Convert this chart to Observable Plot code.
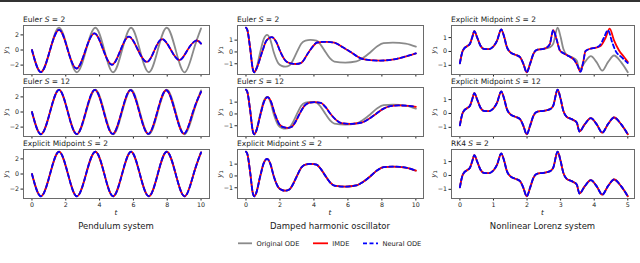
<!DOCTYPE html>
<html>
<head>
<meta charset="utf-8">
<script src="https://cdn.jsdelivr.net/npm/d3@7"></script>
<script src="https://cdn.jsdelivr.net/npm/@observablehq/plot@0.6"></script>
<style>
  html, body { margin: 0; padding: 0; background: #fff; }
  #wrap { position: relative; width: 640px; height: 263px; overflow: hidden; font-family: "DejaVu Sans", sans-serif; color: #1a1a1a; background: #fff; }
  .abs { position: absolute; white-space: nowrap; line-height: 1; }
  .ptitle { font-size: 7.5px; }
  .ylab { font-size: 7.2px; transform: translate(-50%, -50%) rotate(-90deg); }
  .ylab sub { font-size: 5px; vertical-align: -1.5px; }
  .xlab { font-size: 7.2px; transform: translate(-50%, -50%); font-style: italic; }
  .ctitle { font-size: 8.5px; transform: translate(-50%, -50%); }
  .leg { font-size: 6.7px; transform: translateY(-50%); }
  svg.panel { position: absolute; overflow: visible; }
</style>
</head>
<body>
<div id="wrap"></div>
<script>
// ---------------- data ----------------
const xTicksLong = [0, 2, 4, 6, 8, 10];
const xTicksShort = [0, 1, 2, 3, 4, 5];
const yTicksPendulum = [-2, 0, 2];
const yTicksDamped = [-1, 0, 1];
const yTicksLorenz = [-1, 0, 1];

const columnNames = ["Pendulum system", "Damped harmonic oscillator", "Nonlinear Lorenz system"];
const pendulumMethods = ["Euler", "Euler", "Explicit Midpoint"];
const pendulumSteps = [2, 12, 2];
const dampedMethods = ["Euler", "Euler", "Explicit Midpoint"];
const dampedSteps = [2, 12, 2];
const lorenzMethods = ["Explicit Midpoint", "Explicit Midpoint", "RK4"];
const lorenzSteps = [2, 12, 2];
const legendLabels = ["Original ODE", "IMDE", "Neural ODE"];

// Pendulum system, y1 vs t
const pendulumOriginal = [[0,0],[0.53,-2.95],[1.07,0],[1.6,2.95],[2.13,0],[2.66,-2.95],[3.2,0],[3.75,2.95],[4.28,0],[4.8,-2.95],[5.33,0],[5.86,2.95],[6.38,0],[6.91,-2.95],[7.44,0],[7.97,2.95],[8.5,0],[9.04,-2.95],[9.56,0],[10,2.86]];
const pendulumImdeEulerS2 = [[0,0],[0.53,-2.92],[1.07,0],[1.61,2.67],[2.12,0],[2.64,-2.45],[3.17,0],[3.7,2.2],[4.22,0],[4.74,-1.95],[5.24,0],[5.74,1.78],[6.27,0],[6.8,-1.58],[7.25,0],[7.71,1.45],[8.22,0],[8.73,-1.33],[9.2,0],[9.68,1.23],[10,0.85]];
const pendulumNodeEulerS2 = [[0,0],[0.53,-2.92],[1.07,0],[1.61,2.67],[2.12,0],[2.64,-2.45],[3.17,0],[3.7,2.2],[4.22,0],[4.74,-1.95],[5.24,0],[5.74,1.78],[6.27,0],[6.8,-1.58],[7.25,0],[7.71,1.45],[8.22,0],[8.73,-1.33],[9.2,0],[9.68,1.23],[10,0.85]];
const pendulumImdeEulerS12 = [[0,0],[0.53,-2.95],[1.07,0],[1.6,2.94],[2.12,0],[2.65,-2.93],[3.18,0],[3.72,2.92],[4.25,0],[4.77,-2.91],[5.3,0],[5.83,2.9],[6.35,0],[6.88,-2.89],[7.41,0],[7.94,2.88],[8.47,0],[9.0,-2.87],[9.52,0],[10,2.68]];
const pendulumNodeEulerS12 = [[0,0],[0.53,-2.95],[1.07,0],[1.6,2.94],[2.12,0],[2.65,-2.93],[3.18,0],[3.72,2.92],[4.25,0],[4.77,-2.91],[5.3,0],[5.83,2.9],[6.35,0],[6.88,-2.89],[7.41,0],[7.94,2.88],[8.47,0],[9.0,-2.87],[9.52,0],[10,2.68]];
const pendulumImdeMidpointS2 = [[0,0],[0.53,-2.95],[1.07,0],[1.6,2.95],[2.13,0],[2.66,-2.95],[3.2,0],[3.75,2.95],[4.28,0],[4.8,-2.95],[5.33,0],[5.86,2.95],[6.38,0],[6.91,-2.95],[7.44,0],[7.97,2.95],[8.5,0],[9.04,-2.95],[9.56,0],[10,2.86]];
const pendulumNodeMidpointS2 = [[0,0],[0.53,-2.95],[1.07,0],[1.6,2.95],[2.13,0],[2.66,-2.95],[3.2,0],[3.75,2.95],[4.28,0],[4.8,-2.95],[5.33,0],[5.86,2.95],[6.38,0],[6.91,-2.95],[7.44,0],[7.97,2.95],[8.5,0],[9.04,-2.95],[9.56,0],[10,2.86]];

// Damped harmonic oscillator, y1 vs t
const dampedOriginal = [[0,2.05],[0.08,1.85],[0.25,0.25],[0.4,-1.45],[0.49,-1.72],[0.6,-1.45],[0.84,0],[1.05,1.1],[1.24,1.44],[1.43,1.05],[1.63,0],[1.9,-0.95],[2.1,-1.18],[2.32,-1.25],[2.55,-1.15],[2.75,-0.75],[3.0,0],[3.25,0.7],[3.5,0.96],[3.8,1.02],[4.15,0.95],[4.4,0.6],[4.68,0],[4.95,-0.55],[5.2,-0.82],[5.85,-0.9],[6.5,-0.8],[6.9,-0.5],[7.34,0],[7.75,0.5],[8.1,0.74],[8.65,0.79],[9.4,0.71],[10,0.45]];
const dampedImdeEulerS2 = [[0,2.05],[0.08,1.85],[0.25,0.25],[0.4,-1.45],[0.49,-1.72],[0.62,-1.4],[0.95,0],[1.2,0.95],[1.52,1.25],[1.78,0.85],[2.03,0],[2.3,-0.7],[2.62,-0.97],[2.93,-1.02],[3.25,-0.92],[3.7,0],[4.2,0.8],[4.7,0.86],[5.2,0.78],[5.7,0.4],[6.16,0],[6.7,-0.5],[7.3,-0.7],[7.9,-0.73],[8.6,-0.65],[9.3,-0.42],[10,-0.12]];
const dampedNodeEulerS2 = [[0,2.05],[0.08,1.85],[0.25,0.25],[0.4,-1.45],[0.49,-1.72],[0.62,-1.4],[0.95,0],[1.2,0.95],[1.52,1.25],[1.78,0.85],[2.03,0],[2.3,-0.7],[2.62,-0.97],[2.93,-1.02],[3.25,-0.92],[3.7,0],[4.2,0.8],[4.7,0.86],[5.2,0.78],[5.7,0.4],[6.16,0],[6.7,-0.5],[7.3,-0.7],[7.9,-0.73],[8.6,-0.65],[9.3,-0.42],[10,-0.12]];
const dampedImdeEulerS12 = [[0,2.05],[0.08,1.85],[0.25,0.25],[0.4,-1.45],[0.49,-1.72],[0.6,-1.45],[0.86,0],[1.08,1.1],[1.28,1.42],[1.47,1.05],[1.7,0],[1.98,-0.9],[2.2,-1.12],[2.45,-1.18],[2.7,-1.08],[2.9,-0.7],[3.15,0],[3.45,0.7],[3.75,0.95],[4.05,1.0],[4.4,0.93],[4.7,0.55],[4.98,0],[5.3,-0.5],[5.6,-0.77],[6.15,-0.84],[6.8,-0.74],[7.2,-0.45],[7.65,0],[8.1,0.45],[8.5,0.66],[9.0,0.72],[9.6,0.69],[10,0.6]];
const dampedNodeEulerS12 = [[0,2.05],[0.08,1.85],[0.25,0.25],[0.4,-1.45],[0.49,-1.72],[0.6,-1.45],[0.86,0],[1.08,1.1],[1.28,1.42],[1.47,1.05],[1.7,0],[1.98,-0.9],[2.2,-1.12],[2.45,-1.18],[2.7,-1.08],[2.9,-0.7],[3.15,0],[3.45,0.7],[3.75,0.95],[4.05,1.0],[4.4,0.93],[4.7,0.55],[4.98,0],[5.3,-0.5],[5.6,-0.77],[6.15,-0.84],[6.8,-0.74],[7.2,-0.45],[7.65,0],[8.1,0.45],[8.5,0.66],[9.0,0.72],[9.6,0.69],[10,0.6]];
const dampedImdeMidpointS2 = [[0,2.05],[0.08,1.85],[0.25,0.25],[0.4,-1.45],[0.49,-1.72],[0.6,-1.45],[0.84,0],[1.05,1.1],[1.24,1.44],[1.43,1.05],[1.63,0],[1.9,-0.95],[2.1,-1.18],[2.32,-1.25],[2.55,-1.15],[2.75,-0.75],[3.0,0],[3.25,0.7],[3.5,0.96],[3.8,1.02],[4.15,0.95],[4.4,0.6],[4.68,0],[4.95,-0.55],[5.2,-0.82],[5.85,-0.9],[6.5,-0.8],[6.9,-0.5],[7.34,0],[7.75,0.5],[8.1,0.74],[8.65,0.79],[9.4,0.71],[10,0.45]];
const dampedNodeMidpointS2 = [[0,2.05],[0.08,1.85],[0.25,0.25],[0.4,-1.45],[0.49,-1.72],[0.6,-1.45],[0.84,0],[1.05,1.1],[1.24,1.44],[1.43,1.05],[1.63,0],[1.9,-0.95],[2.1,-1.18],[2.32,-1.25],[2.55,-1.15],[2.75,-0.75],[3.0,0],[3.25,0.7],[3.5,0.96],[3.8,1.02],[4.15,0.95],[4.4,0.6],[4.68,0],[4.95,-0.55],[5.2,-0.82],[5.85,-0.9],[6.5,-0.8],[6.9,-0.5],[7.34,0],[7.75,0.5],[8.1,0.74],[8.65,0.79],[9.4,0.71],[10,0.45]];

// Nonlinear Lorenz system, y1 vs t
const lorenzOriginal = [[0,-0.85],[0.07,-0.05],[0.12,0.19],[0.22,0.39],[0.3,0.56],[0.37,1.04],[0.43,1.47],[0.51,1.04],[0.61,0.43],[0.71,0.19],[0.86,0.17],[1.01,0.39],[1.11,0.8],[1.23,1.59],[1.32,1.04],[1.4,0.31],[1.5,-0.05],[1.65,-0.24],[1.79,-0.41],[1.89,-0.89],[1.99,-1.5],[2.09,-0.89],[2.19,-0.17],[2.29,0.12],[2.49,0.19],[2.69,0.31],[2.78,0.56],[2.91,1.71],[3.0,1.04],[3.08,0.19],[3.18,-0.24],[3.33,-0.41],[3.48,-0.65],[3.56,-1.3],[3.72,-0.77],[3.9,-0.34],[4.07,-0.77],[4.24,-1.38],[4.41,-0.77],[4.59,-0.29],[4.8,-0.77],[5,-1.5]];
const lorenzImdeMidpointS2 = [[0,-0.85],[0.07,-0.05],[0.12,0.19],[0.22,0.39],[0.3,0.56],[0.37,1.04],[0.43,1.47],[0.51,1.04],[0.61,0.43],[0.71,0.19],[0.86,0.17],[1.01,0.39],[1.11,0.8],[1.23,1.59],[1.32,1.04],[1.4,0.31],[1.5,-0.05],[1.65,-0.24],[1.79,-0.41],[1.89,-0.89],[1.99,-1.5],[2.09,-0.89],[2.19,-0.17],[2.29,0.12],[2.49,0.19],[2.6,0.3],[2.68,0.55],[2.78,1.53],[2.87,0.95],[2.98,0.07],[3.1,-0.15],[3.25,-0.35],[3.4,-0.6],[3.5,-1.0],[3.59,-1.46],[3.67,-0.8],[3.74,0.02],[3.89,0.2],[4.05,0.28],[4.19,0.4],[4.34,0.99],[4.46,1.64],[4.59,0.8],[4.74,0.07],[4.89,-0.4],[5,-0.75]];
const lorenzNodeMidpointS2 = [[0,-0.85],[0.07,-0.05],[0.12,0.19],[0.22,0.39],[0.3,0.56],[0.37,1.04],[0.43,1.47],[0.51,1.04],[0.61,0.43],[0.71,0.19],[0.86,0.17],[1.01,0.39],[1.11,0.8],[1.23,1.59],[1.32,1.04],[1.4,0.31],[1.5,-0.05],[1.65,-0.24],[1.79,-0.41],[1.89,-0.89],[1.99,-1.5],[2.09,-0.89],[2.19,-0.17],[2.29,0.12],[2.49,0.19],[2.6,0.3],[2.68,0.55],[2.78,1.53],[2.87,0.95],[2.98,0.07],[3.1,-0.15],[3.25,-0.35],[3.4,-0.6],[3.5,-1.0],[3.59,-1.46],[3.67,-0.8],[3.74,0.02],[3.89,0.2],[4.05,0.28],[4.17,0.45],[4.29,1.0],[4.41,1.53],[4.53,0.7],[4.63,0.07],[4.83,-0.45],[5,-0.83]];
const lorenzImdeMidpointS12 = [[0,-0.85],[0.07,-0.05],[0.12,0.19],[0.22,0.39],[0.3,0.56],[0.37,1.04],[0.43,1.47],[0.51,1.04],[0.61,0.43],[0.71,0.19],[0.86,0.17],[1.01,0.39],[1.11,0.8],[1.23,1.59],[1.32,1.04],[1.4,0.31],[1.5,-0.05],[1.65,-0.24],[1.79,-0.41],[1.89,-0.89],[1.99,-1.5],[2.09,-0.89],[2.19,-0.17],[2.29,0.12],[2.49,0.19],[2.69,0.31],[2.78,0.56],[2.91,1.71],[3.0,1.04],[3.08,0.19],[3.18,-0.24],[3.33,-0.41],[3.48,-0.65],[3.56,-1.3],[3.72,-0.77],[3.9,-0.34],[4.07,-0.77],[4.24,-1.38],[4.41,-0.77],[4.59,-0.29],[4.8,-0.77],[5,-1.5]];
const lorenzNodeMidpointS12 = lorenzImdeMidpointS12.map(p => p.slice());
const lorenzImdeRK4S2 = [[0,-0.85],[0.07,-0.05],[0.12,0.19],[0.22,0.39],[0.3,0.56],[0.37,1.04],[0.43,1.47],[0.51,1.04],[0.61,0.43],[0.71,0.19],[0.86,0.17],[1.01,0.39],[1.11,0.8],[1.23,1.59],[1.32,1.04],[1.4,0.31],[1.5,-0.05],[1.65,-0.24],[1.79,-0.41],[1.89,-0.89],[1.99,-1.5],[2.09,-0.89],[2.19,-0.17],[2.29,0.12],[2.49,0.19],[2.69,0.31],[2.78,0.56],[2.91,1.71],[3.0,1.04],[3.08,0.19],[3.18,-0.24],[3.33,-0.41],[3.48,-0.65],[3.56,-1.3],[3.72,-0.77],[3.9,-0.34],[4.07,-0.77],[4.24,-1.38],[4.41,-0.77],[4.59,-0.29],[4.8,-0.77],[5,-1.5]];
const lorenzNodeRK4S2 = lorenzImdeRK4S2.map(p => p.slice());

// ---------------- layout ----------------
const boxLefts = [23, 237, 451];
const boxWidths = [186, 186, 183];
const rowTops = [25, 87, 149];
const boxH = 49;

const columns = [
  { xDomain: [-0.5, 10.5], xTicks: xTicksLong, yTicks: yTicksPendulum, curve: "natural",
    methods: pendulumMethods, steps: pendulumSteps, orig: pendulumOriginal,
    imde: [pendulumImdeEulerS2, pendulumImdeEulerS12, pendulumImdeMidpointS2],
    node: [pendulumNodeEulerS2, pendulumNodeEulerS12, pendulumNodeMidpointS2] },
  { xDomain: [-0.5, 10.45], xTicks: xTicksLong, yTicks: yTicksDamped, curve: "monotone-x",
    methods: dampedMethods, steps: dampedSteps, orig: dampedOriginal,
    imde: [dampedImdeEulerS2, dampedImdeEulerS12, dampedImdeMidpointS2],
    node: [dampedNodeEulerS2, dampedNodeEulerS12, dampedNodeMidpointS2] },
  { xDomain: [-0.25, 5.2], xTicks: xTicksShort, yTicks: yTicksLorenz, curve: "monotone-x",
    methods: lorenzMethods, steps: lorenzSteps, orig: lorenzOriginal,
    imde: [lorenzImdeMidpointS2, lorenzImdeMidpointS12, lorenzImdeRK4S2],
    node: [lorenzNodeMidpointS2, lorenzNodeMidpointS12, lorenzNodeRK4S2] }
];

// matplotlib-like autoscale: data extent with 5% margins
columns.forEach(c => {
  const all = [c.orig, ...c.imde, ...c.node].flat();
  const [lo, hi] = d3.extent(all, d => d[1]);
  const pad = (hi - lo) * 0.05;
  c.yDomain = [lo - pad, hi + pad];
});

const wrap = document.getElementById("wrap");
const fmt = d3.format("d");
const px = d => d[0], py = d => d[1];

function addDiv(cls, html, left, top) {
  const el = document.createElement("div");
  el.className = "abs " + cls;
  el.innerHTML = html;
  el.style.left = left + "px";
  el.style.top = top + "px";
  wrap.appendChild(el);
  return el;
}

// top border line of the reference image
const bar = document.createElement("div");
bar.style.cssText = "position:absolute;left:0;top:0;width:640px;height:2px;background:#333;";
wrap.appendChild(bar);

columns.forEach((c, ci) => {
  for (let ri = 0; ri < 3; ri++) {
    const mL = 24, mR = 4, mT = 3, mB = ri === 2 ? 18 : 5;
    const svg = Plot.plot({
      width: boxWidths[ci] + mL + mR,
      height: boxH + mT + mB,
      marginLeft: mL, marginRight: mR, marginTop: mT, marginBottom: mB,
      style: { background: "transparent", fontSize: "6.3px", fontFamily: "DejaVu Sans", color: "#222", overflow: "visible" },
      x: { domain: c.xDomain, ticks: c.xTicks, tickSize: 2.5, tickPadding: 2, label: null,
           tickFormat: ri === 2 ? fmt : () => "" },
      y: { domain: c.yDomain, ticks: c.yTicks, tickSize: 2.5, tickPadding: 2, label: null, tickFormat: fmt },
      marks: [
        Plot.line(c.orig, { x: px, y: py, stroke: "#8a8a8a", strokeWidth: 1.8, curve: c.curve }),
        Plot.line(c.imde[ri], { x: px, y: py, stroke: "#ff0000", strokeWidth: 1.8, curve: c.curve }),
        Plot.line(c.node[ri], { x: px, y: py, stroke: "#0000ff", strokeWidth: 1.8, strokeDasharray: "4,3", curve: c.curve }),
        Plot.frame({ stroke: "#6a6a6a", strokeWidth: 1 })
      ]
    });
    svg.classList.add("panel");
    svg.style.left = (boxLefts[ci] - mL) + "px";
    svg.style.top = (rowTops[ri] - mT) + "px";
    wrap.appendChild(svg);

    // panel title
    addDiv("ptitle", `${c.methods[ri]} <i>S</i> = ${c.steps[ri]}`, boxLefts[ci], rowTops[ri] - 8.9);
    // y label
    addDiv("ylab", `<i>y</i><sub>1</sub>`, boxLefts[ci] - 17, rowTops[ri] + boxH / 2);
  }
  const cx = boxLefts[ci] + boxWidths[ci] / 2;
  addDiv("xlab", "t", cx, 212.5);
  addDiv("ctitle", columnNames[ci], cx, 225.5);
});

// legend
const legSvg = d3.create("svg").attr("width", 640).attr("height", 263)
  .style("position", "absolute").style("left", "0px").style("top", "0px");
const legItems = [
  { x1: 238, x2: 252, stroke: "#8a8a8a", dash: null, tx: 256.5 },
  { x1: 313, x2: 328, stroke: "#ff0000", dash: null, tx: 332.3 },
  { x1: 363, x2: 378, stroke: "#0000ff", dash: "4,2.5", tx: 382.5 }
];
legItems.forEach((it) => {
  legSvg.append("line").attr("x1", it.x1).attr("x2", it.x2).attr("y1", 243.3).attr("y2", 243.3)
    .attr("stroke", it.stroke).attr("stroke-width", 1.8).attr("stroke-dasharray", it.dash);
});
wrap.appendChild(legSvg.node());
legItems.forEach((it, i) => addDiv("leg", legendLabels[i], it.tx, 243.6));
</script>
</body>
</html>
